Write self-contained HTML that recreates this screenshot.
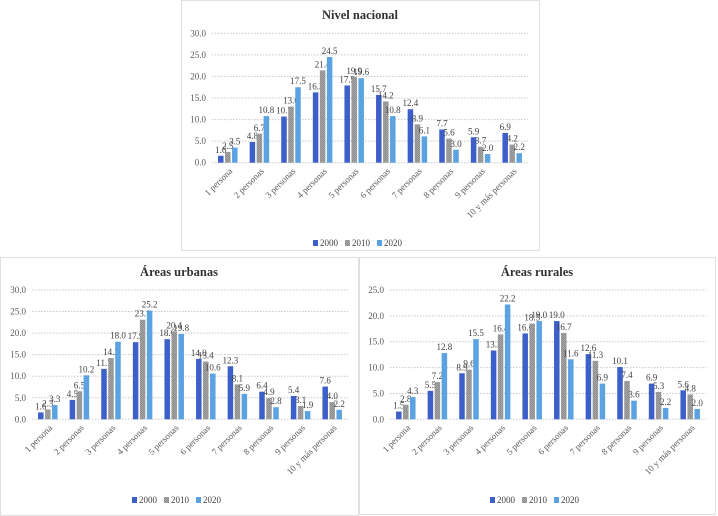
<!DOCTYPE html>
<html><head><meta charset="utf-8"><style>
body{margin:0;background:#fff;}
svg{display:block;font-family:"Liberation Serif",serif;}
</style></head><body>
<svg id="s" width="718" height="516" viewBox="0 0 718 516" xmlns="http://www.w3.org/2000/svg">
<defs>
<pattern id="gp" width="2" height="2" patternUnits="userSpaceOnUse"><rect width="2" height="2" fill="#a6a6a6"/><rect width="1" height="1" fill="#8c8c8c"/><rect x="1" y="1" width="1" height="1" fill="#8c8c8c"/></pattern>
</defs>
</svg>
<script>
const categories=["1 persona","2 personas","3 personas","4 personas","5 personas","6 personas","7 personas","8 personas","9 personas","10 y más personas"];
const seriesNames=["2000","2010","2020"];
const nac2000=[1.6,4.8,10.7,16.3,17.9,15.7,12.4,7.7,5.9,6.9];
const nac2010=[2.5,6.7,13.0,21.4,19.9,14.2,8.9,5.6,3.7,4.2];
const nac2020=[3.5,10.8,17.5,24.5,19.6,10.8,6.1,3.0,2.0,2.2];
const urb2000=[1.6,4.5,11.7,17.9,18.6,14.0,12.3,6.4,5.4,7.6];
const urb2010=[2.3,6.5,14.2,23.1,20.4,13.4,8.1,4.9,3.1,4.0];
const urb2020=[3.3,10.2,18.0,25.2,19.8,10.6,5.9,2.8,1.9,2.2];
const rur2000=[1.5,5.5,8.9,13.3,16.6,19.0,12.6,10.1,6.9,5.6];
const rur2010=[2.8,7.2,9.6,16.4,18.5,16.7,11.3,7.4,5.3,4.8];
const rur2020=[4.3,12.8,15.5,22.2,19.0,11.6,6.9,3.6,2.2,2.0];
const ticksA=[0,5,10,15,20,25,30];
const ticksB=[0,5,10,15,20,25];

const NS="http://www.w3.org/2000/svg";
const svg=document.getElementById('s');
const colors=["#3d5fc9","url(#gp)","#5aa2e2"];
function mk(tag,attrs,parent){const e=document.createElementNS(NS,tag);for(const k in attrs)e.setAttribute(k,attrs[k]);(parent||svg).appendChild(e);return e;}

function chart(id,title,box,plot,ticks,series,legendY){
  const g=mk('g',{});
  
  
  const fr=mk('rect',{x:box[0]+.5,y:box[1]+.5,width:box[2],height:box[3],fill:'#fff',stroke:'#bfbfbf','stroke-dasharray':'1,1'},g);
  
  
  const t=mk('text',{x:box[0]+box[2]/2,y:box[1]+19,'text-anchor':'middle','font-size':'12.5','font-weight':'bold',fill:'#333'},g);
  t.textContent=title;
  
  
  const [x0,x1,yTop,yBot]=plot;
  const maxV=ticks[ticks.length-1];
  const yS=v=>yBot-(v/maxV)*(yBot-yTop);
  ticks.forEach(v=>{
    const y=yS(v);
    const l=mk('line',{x1:x0,x2:x1,y1:y,y2:y,stroke:'#c8c8c8','stroke-dasharray':'1.5,1.5'},g);
    
    
    const tx=mk('text',{x:x0-6,y:y+3,'text-anchor':'end','font-size':'9',fill:'#595959'},g);
    tx.textContent=v.toFixed(1);
    
    
  });
  const cw=(x1-x0)/categories.length;
  const bw=5.5, step=7;
  categories.forEach((c,i)=>{
    const cx=x0+cw*(i+.5);
    series.forEach((s,j)=>{
      const v=s[i];
      const bx=cx+(j-1)*step-bw/2;
      const r=mk('rect',{x:bx,y:yS(v),width:bw,height:yBot-yS(v),fill:colors[j]},g);
      
      
      const lb=mk('text',{x:bx+bw/2,y:yS(v)-3,'text-anchor':'middle','font-size':'9',fill:'#404040'},g);
      lb.textContent=v.toFixed(1);
      
      
    });
    const lx=cx+5, ly=yBot+9;
    const cl=mk('text',{x:lx,y:ly,'text-anchor':'end','font-size':'9',fill:'#595959',transform:`rotate(-45 ${lx} ${ly})`},g);
    cl.textContent=c;
    
    
  });
  const lx0=box[0]+box[2]/2-47;
  seriesNames.forEach((n,j)=>{
    const x=lx0+j*32;
    const r=mk('rect',{x:x,y:legendY-6,width:5,height:6,fill:colors[j]},g);
    
    
    const tx=mk('text',{x:x+7,y:legendY,'font-size':'9',fill:'#404040'},g);
    tx.textContent=n;
    
    
  });
}
chart('chart-nivel-nacional','Nivel nacional',[181,0,358,250],[212,528,33.3,162.7],ticksA,[nac2000,nac2010,nac2020],246);
chart('chart-areas-urbanas','Áreas urbanas',[0,257,358,258],[32,348,290,419.3],ticksA,[urb2000,urb2010,urb2020],503);
chart('chart-areas-rurales','Áreas rurales',[359,257,356,257],[390,706,290,419.3],ticksB,[rur2000,rur2010,rur2020],503);
</script>
</body></html>
